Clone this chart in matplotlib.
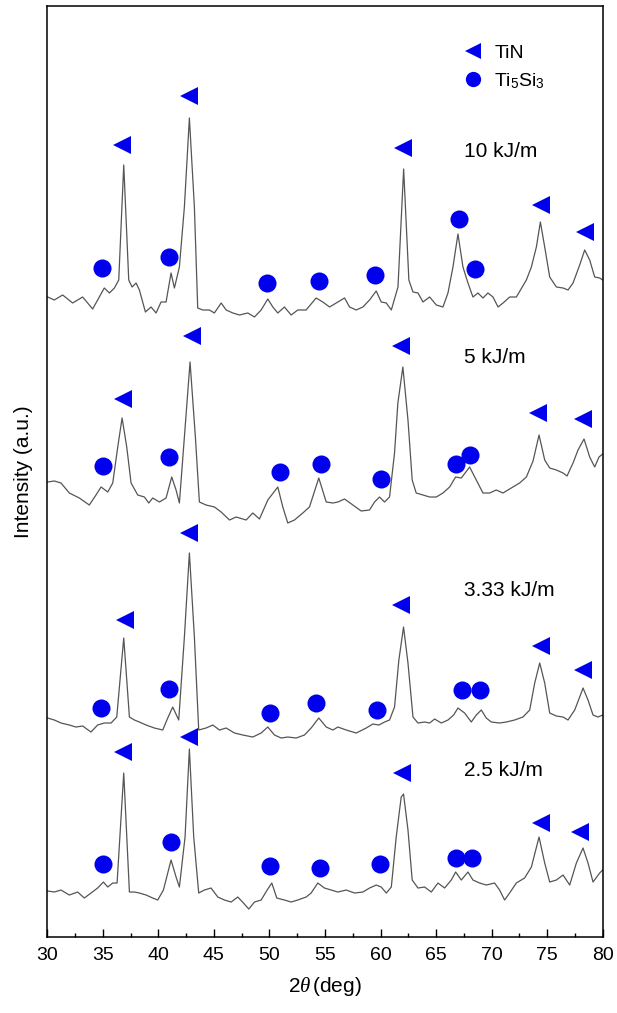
import matplotlib
matplotlib.use('Agg')
import matplotlib.pyplot as plt
from matplotlib.lines import Line2D
from matplotlib.ticker import MultipleLocator

plt.rcParams['font.family'] = ['Liberation Sans', 'DejaVu Sans']
plt.rcParams['mathtext.fontset'] = 'custom'
plt.rcParams['mathtext.rm'] = 'Liberation Sans'
plt.rcParams['mathtext.it'] = 'Liberation Serif:italic'

# XRD patterns, already stacked vertically (a.u.)
tt_10 = [30.03, 30.63, 31.38, 32.28, 33.18, 34.08, 35.13, 35.59, 36.04, 36.43, 36.88, 37.33, 37.63, 37.99,
         38.29, 38.83, 39.34, 39.79, 40.24, 40.69, 41.14, 41.44, 41.89, 42.34, 42.79, 43.24, 43.54, 43.99,
         44.59, 45.04, 45.65, 46.10, 46.70, 47.30, 48.05, 48.65, 49.25, 49.85, 50.30, 50.75, 51.35, 51.95,
         52.55, 53.30, 54.20, 54.80, 55.41, 56.01, 56.76, 57.21, 57.81, 58.41, 59.01, 59.61, 60.06, 60.52,
         60.97, 61.57, 62.08, 62.55, 62.92, 63.37, 63.82, 64.42, 65.02, 65.62, 66.07, 66.52, 66.97, 67.42,
         67.87, 68.32, 68.77, 69.22, 69.67, 70.12, 70.58, 71.03, 71.63, 72.23, 73.13, 73.58, 74.03, 74.39,
         74.78, 75.23, 75.83, 76.43, 76.88, 77.33, 77.93, 78.38, 78.83, 79.28, 79.73, 80.0]
i_10 = [639, 636, 641, 633, 639, 627, 648, 643, 648, 656, 771, 656, 649, 653,
        646, 624, 629, 623, 634, 634, 663, 648, 669, 729, 818, 729, 628, 626,
        626, 623, 633, 626, 623, 621, 623, 619, 626, 637, 629, 623, 629, 621,
        626, 626, 638, 634, 629, 633, 638, 629, 626, 629, 636, 645, 634, 633,
        626, 649, 767, 656, 644, 643, 634, 639, 631, 629, 643, 669, 702, 669,
        653, 639, 643, 638, 643, 639, 629, 633, 639, 639, 656, 669, 689, 714,
        689, 659, 649, 648, 646, 653, 671, 686, 676, 659, 658, 656]

tt_5 = [30.03, 30.63, 31.23, 31.98, 32.88, 33.78, 34.38, 34.84, 35.44, 35.89, 36.34, 36.73, 37.15, 37.54,
        38.14, 38.74, 39.13, 39.49, 40.09, 40.69, 41.20, 41.59, 41.89, 42.34, 42.85, 43.33, 43.69, 44.29,
        45.05, 45.65, 46.40, 47.00, 47.90, 48.50, 49.10, 49.85, 50.75, 51.20, 51.65, 52.25, 53.00, 53.60,
        54.44, 55.11, 55.71, 56.16, 56.76, 57.51, 58.26, 59.01, 59.46, 59.91, 60.36, 60.81, 61.26, 61.56,
        62.01, 62.47, 62.85, 63.21, 63.82, 64.42, 65.02, 65.62, 66.22, 66.76, 67.27, 68.02, 68.62, 69.22,
        69.82, 70.42, 71.02, 71.77, 72.52, 73.13, 73.73, 74.27, 74.78, 75.23, 75.83, 76.43, 76.79, 77.33,
        77.78, 78.32, 78.83, 79.28, 79.67, 80.0]
i_5 = [454, 455, 453, 443, 438, 431, 441, 449, 444, 453, 489, 518, 489, 453,
       441, 439, 433, 438, 434, 438, 459, 446, 433, 499, 574, 499, 434, 431,
       429, 424, 416, 419, 416, 423, 417, 436, 449, 429, 413, 416, 423, 429,
       458, 434, 433, 434, 437, 431, 425, 426, 434, 439, 434, 439, 483, 533,
       569, 516, 456, 443, 441, 439, 439, 443, 449, 459, 458, 469, 456, 443,
       443, 446, 443, 448, 453, 459, 475, 501, 476, 468, 466, 463, 460, 473,
       486, 497, 479, 469, 479, 482]

tt_333 = [30.03, 30.63, 31.23, 31.98, 32.58, 33.18, 33.93, 34.53, 35.13, 35.74, 36.25, 36.88, 37.39, 37.84,
          38.29, 38.89, 39.64, 40.39, 40.84, 41.29, 41.83, 42.34, 42.79, 43.24, 43.63, 44.29, 44.90, 45.50,
          46.10, 46.85, 47.60, 48.50, 49.25, 49.85, 50.45, 51.05, 51.65, 52.40, 53.15, 53.75, 54.44, 55.11,
          55.71, 56.16, 56.91, 57.81, 58.71, 59.31, 59.85, 60.36, 60.81, 61.26, 61.65, 62.07, 62.47, 62.92,
          63.37, 63.97, 64.42, 64.87, 65.47, 66.07, 66.58, 66.97, 67.57, 68.17, 68.62, 69.07, 69.52, 69.97,
          70.72, 71.32, 72.07, 72.82, 73.43, 73.88, 74.33, 74.78, 75.23, 75.83, 76.43, 76.88, 77.48, 77.93,
          78.23, 78.68, 79.13, 79.58, 80.0]
i_333 = [218, 216, 213, 211, 209, 210, 204, 211, 213, 213, 219, 298, 219, 216,
         214, 211, 208, 206, 218, 229, 216, 299, 383, 299, 206, 208, 211, 206,
         208, 203, 201, 199, 203, 209, 201, 198, 199, 198, 201, 208, 218, 209,
         206, 209, 206, 203, 208, 212, 211, 214, 216, 229, 276, 309, 273, 219,
         213, 214, 213, 217, 213, 216, 221, 228, 223, 214, 221, 226, 218, 214,
         213, 214, 216, 219, 226, 253, 273, 253, 223, 220, 219, 216, 226, 239,
         248, 236, 221, 219, 221]

tt_25 = [30.03, 30.63, 31.23, 31.98, 32.73, 33.33, 33.93, 34.53, 35.05, 35.44, 35.89, 36.28, 36.88, 37.39,
         37.84, 38.29, 38.89, 39.49, 39.94, 40.45, 41.14, 41.59, 41.89, 42.40, 42.79, 43.18, 43.63, 44.14,
         44.74, 45.35, 45.95, 46.55, 47.15, 47.66, 48.14, 48.65, 49.25, 49.79, 50.21, 50.66, 51.35, 51.95,
         52.55, 53.30, 53.75, 54.35, 54.95, 55.55, 56.16, 56.91, 57.66, 58.41, 59.01, 59.61, 60.06, 60.52,
         60.97, 61.41, 61.86, 62.07, 62.47, 62.85, 63.37, 63.97, 64.57, 65.17, 65.77, 66.37, 66.76, 67.27,
         67.87, 68.32, 68.92, 69.52, 70.27, 70.72, 71.17, 71.62, 72.22, 72.97, 73.58, 74.27, 74.78, 75.23,
         75.83, 76.43, 77.03, 77.63, 78.23, 78.68, 79.13, 79.73, 80.0]
i_25 = [45, 44, 46, 41, 44, 38, 43, 48, 54, 49, 53, 53, 163, 44,
        44, 43, 41, 38, 36, 46, 76, 59, 49, 99, 187, 99, 43, 46,
        48, 39, 36, 34, 39, 33, 27, 34, 36, 46, 53, 38, 36, 34,
        36, 39, 43, 53, 48, 46, 44, 46, 43, 44, 48, 51, 49, 43,
        49, 99, 139, 142, 106, 56, 48, 49, 44, 53, 48, 56, 64, 56,
        64, 56, 53, 51, 53, 46, 36, 43, 53, 58, 69, 99, 73, 54,
        56, 61, 51, 73, 88, 73, 54, 63, 66]

# phase markers: (2theta, height) per pattern
tin_tt = {'10': [36.76, 42.79, 62.00, 74.41, 78.38],
          '5': [36.78, 43.00, 61.80, 74.20, 78.25],
          '3.33': [37.00, 42.79, 61.80, 74.45, 78.25],
          '2.5': [36.78, 42.79, 61.95, 74.45, 78.00]}
tin_i = {'10': [791, 840, 788, 731, 704],
         '5': [537, 600, 590, 523, 517],
         '3.33': [316, 403, 331, 290, 266],
         '2.5': [184, 199, 163, 113, 104]}
si_tt = {'10': [34.95, 40.95, 49.75, 54.50, 59.50, 67.05, 68.50],
         '5': [34.98, 40.99, 50.96, 54.66, 60.06, 66.76, 68.02],
         '3.33': [34.84, 40.99, 50.09, 54.21, 59.70, 67.36, 68.92],
         '2.5': [34.98, 41.17, 50.09, 54.59, 59.91, 66.76, 68.26]}
si_i = {'10': [668, 679, 653, 655, 661, 717, 667],
        '5': [470, 479, 464, 472, 457, 472, 481],
        '3.33': [228, 247, 223, 233, 226, 246, 246],
        '2.5': [72, 94, 70, 68, 72, 78, 78]}

labels = ['10 kJ/m', '5 kJ/m', '3.33 kJ/m', '2.5 kJ/m']
label_y = [784, 578, 346, 166]

fig = plt.figure(figsize=(6.17, 10.13), dpi=100)
ax = fig.add_axes([0.0767, 0.075, 0.9001, 0.9191])

for tt, ii in [(tt_10, i_10), (tt_5, i_5), (tt_333, i_333), (tt_25, i_25)]:
    ax.plot(tt, ii, color='#555555', lw=0.9)

for k in tin_tt:
    ax.plot(tin_tt[k], tin_i[k], ls='none', marker='<', ms=13, color='#0000ee', mew=0)
    ax.plot(si_tt[k], si_i[k], ls='none', marker='o', ms=13, color='#0000ee', mew=0)

for lab, y in zip(labels, label_y):
    ax.text(67.5, y, lab, fontsize=15, va='center', ha='left')

handles = [Line2D([], [], ls='none', marker='<', ms=11, color='#0000ee', mew=0),
           Line2D([], [], ls='none', marker='o', ms=11, color='#0000ee', mew=0)]
ax.legend(handles, ['TiN', r'Ti$_{\mathregular{5}}$Si$_{\mathregular{3}}$'], loc='upper left',
          bbox_to_anchor=(0.714, 0.969), frameon=False, fontsize=14, handletextpad=0.1,
          labelspacing=0.45, borderpad=0)

ax.set_xlim(30, 80)
ax.set_ylim(-1, 930)
ax.xaxis.set_major_locator(MultipleLocator(5))
ax.xaxis.set_minor_locator(MultipleLocator(2.5))
ax.tick_params(axis='x', which='major', direction='in', length=6, width=1, labelsize=14, pad=7)
ax.tick_params(axis='x', which='minor', direction='in', length=3, width=1)
ax.set_yticks([])
for s in ax.spines.values():
    s.set_linewidth(1.1)
ax.set_xlabel(r'2$\theta\,$(deg)', fontsize=15, labelpad=8)
ax.set_ylabel('Intensity (a.u.)', fontsize=15, labelpad=10)

fig.savefig('out.png', dpi=100)
